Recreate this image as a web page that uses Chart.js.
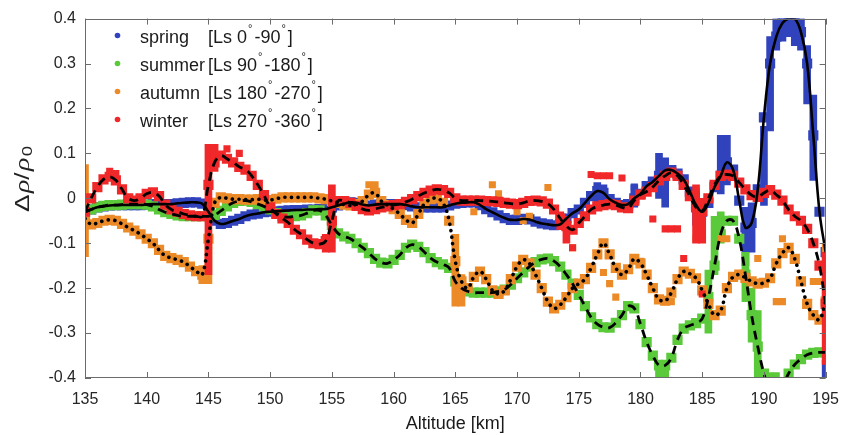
<!DOCTYPE html>
<html>
<head>
<meta charset="utf-8">
<script src="https://cdn.jsdelivr.net/npm/chart.js@4"></script>
<style>
  html,body{margin:0;padding:0;background:#fff;}
  #wrap{width:851px;height:435px;position:relative;}
</style>
</head>
<body>
<div id="wrap"><canvas id="c" width="851" height="435"></canvas></div>
<script>
// Altitude grid (km), 0.5 km steps
const altitude = [
135,135.5,136,136.5,137,137.5,138,138.5,139,139.5,
140,140.5,141,141.5,142,142.5,143,143.5,144,144.5,
145,145.5,146,146.5,147,147.5,148,148.5,149,149.5,
150,150.5,151,151.5,152,152.5,153,153.5,154,154.5,
155,155.5,156,156.5,157,157.5,158,158.5,159,159.5,
160,160.5,161,161.5,162,162.5,163,163.5,164,164.5,
165,165.5,166,166.5,167,167.5,168,168.5,169,169.5,
170,170.5,171,171.5,172,172.5,173,173.5,174,174.5,
175,175.5,176,176.5,177,177.5,178,178.5,179,179.5,
180,180.5,181,181.5,182,182.5,183,183.5,184,184.5,
185,185.5,186,186.5,187,187.5,188,188.5,189,189.5,
190,190.5,191,191.5,192,192.5,193,193.5,194,194.5,
195];

const spring = [
-0.03,-0.025,-0.02,-0.018,-0.016,-0.015,-0.015,-0.015,-0.015,-0.015,
-0.014,-0.013,-0.013,-0.013,-0.013,-0.011,-0.01,-0.009,-0.009,-0.012,
-0.03,-0.05,-0.057,-0.055,-0.05,-0.046,-0.04,-0.036,-0.034,-0.031,
-0.03,-0.029,-0.028,-0.027,-0.026,-0.026,-0.025,-0.025,-0.024,-0.024,
-0.02,-0.016,-0.012,-0.009,-0.01,-0.014,-0.016,-0.014,-0.013,-0.013,
-0.013,-0.013,-0.015,-0.018,-0.02,-0.02,-0.02,-0.02,-0.02,-0.016,
-0.012,-0.01,-0.009,-0.009,-0.015,-0.024,-0.031,-0.038,-0.044,-0.048,
-0.048,-0.046,-0.047,-0.052,-0.056,-0.058,-0.06,-0.058,-0.045,-0.033,
-0.025,-0.01,0.005,0.016,0.012,-0.002,-0.01,-0.015,-0.013,0.0,
0.01,0.027,0.037,0.05,0.062,0.063,0.055,0.042,0.015,-0.015,
-0.03,-0.01,0.025,0.05,0.08,0.064,-0.005,-0.065,-0.055,0.02,
0.18,0.3,0.36,0.39,0.4,0.4,0.37,0.3,0.14,-0.03,
-0.12];

const summer = [
-0.03,-0.025,-0.02,-0.017,-0.015,-0.015,-0.014,-0.013,-0.013,-0.013,
-0.014,-0.018,-0.025,-0.031,-0.035,-0.038,-0.04,-0.04,-0.04,-0.04,
-0.04,-0.037,-0.028,-0.018,-0.01,-0.006,-0.005,-0.008,-0.013,-0.018,
-0.025,-0.033,-0.04,-0.042,-0.04,-0.038,-0.033,-0.027,-0.027,-0.038,
-0.06,-0.078,-0.085,-0.09,-0.1,-0.11,-0.122,-0.135,-0.143,-0.145,
-0.137,-0.126,-0.11,-0.103,-0.108,-0.12,-0.133,-0.142,-0.147,-0.155,
-0.185,-0.2,-0.207,-0.21,-0.21,-0.21,-0.21,-0.207,-0.203,-0.192,
-0.178,-0.165,-0.152,-0.142,-0.136,-0.134,-0.14,-0.152,-0.17,-0.19,
-0.215,-0.24,-0.265,-0.28,-0.287,-0.288,-0.277,-0.26,-0.24,-0.245,
-0.28,-0.32,-0.35,-0.372,-0.372,-0.355,-0.315,-0.29,-0.283,-0.278,
-0.268,-0.22,-0.15,-0.08,-0.05,-0.05,-0.09,-0.17,-0.26,-0.33,
-0.39,-0.43,-0.44,-0.42,-0.39,-0.37,-0.358,-0.348,-0.344,-0.343,
-0.343];

const autumn = [
-0.045,-0.058,-0.055,-0.05,-0.048,-0.05,-0.057,-0.065,-0.072,-0.08,
-0.09,-0.1,-0.115,-0.128,-0.133,-0.137,-0.142,-0.152,-0.162,-0.17,
-0.09,-0.01,0.002,0.0,-0.002,-0.002,-0.003,-0.003,-0.002,-0.004,
-0.004,-0.001,0.002,0.002,0.002,0.002,0.002,0.002,0.0,-0.002,
-0.006,-0.01,-0.014,-0.016,-0.013,-0.006,0.008,0.012,-0.006,-0.015,
-0.024,-0.035,-0.048,-0.055,-0.035,-0.012,-0.002,0.0,-0.01,-0.05,
-0.14,-0.185,-0.2,-0.175,-0.163,-0.18,-0.205,-0.213,-0.205,-0.18,
-0.152,-0.137,-0.145,-0.17,-0.2,-0.23,-0.245,-0.237,-0.22,-0.2,
-0.19,-0.18,-0.155,-0.125,-0.1,-0.125,-0.155,-0.17,-0.158,-0.135,
-0.145,-0.17,-0.2,-0.225,-0.228,-0.21,-0.18,-0.163,-0.168,-0.178,
-0.205,-0.235,-0.26,-0.25,-0.2,-0.175,-0.17,-0.177,-0.185,-0.19,
-0.188,-0.178,-0.145,-0.122,-0.11,-0.135,-0.185,-0.235,-0.26,-0.27,
-0.23];

const winter = [
-0.03,0.0,0.025,0.042,0.048,0.04,0.02,0.0,-0.005,0.0,
0.01,0.013,0.005,-0.014,-0.025,-0.03,-0.035,-0.038,-0.04,-0.04,
0.03,0.08,0.095,0.088,0.08,0.07,0.064,0.05,0.03,0.007,
-0.02,-0.035,-0.045,-0.055,-0.07,-0.08,-0.092,-0.1,-0.102,-0.095,
-0.05,-0.006,-0.006,-0.01,-0.017,-0.024,-0.027,-0.024,-0.02,-0.018,
-0.015,-0.013,-0.008,-0.002,0.005,0.012,0.017,0.02,0.018,0.012,
0.0,-0.005,-0.005,-0.005,-0.005,-0.006,-0.007,-0.008,-0.01,-0.012,
-0.013,-0.01,-0.006,-0.005,-0.007,-0.012,-0.025,-0.045,-0.062,-0.07,
-0.055,-0.04,-0.025,-0.018,-0.015,-0.013,-0.015,-0.02,-0.022,-0.005,
0.008,0.015,0.025,0.04,0.05,0.057,0.05,0.03,0.005,-0.02,
-0.028,0.0,0.03,0.05,0.053,0.05,0.035,0.02,0.007,0.003,
0.012,0.018,0.008,-0.005,-0.025,-0.04,-0.05,-0.068,-0.1,-0.15,
-0.235];

// Isolated scattered observations [altitude, value]
const springExtra = [[179.5,0.025],[184.5,0.015]];
const summerExtra = [[190.5,-0.395],[191,-0.395]];
const autumnExtra = [[158,0.03],[158.5,0.03],[166.5,-0.03],[168,0.03],[168.5,0.01],[172.5,0.024],[170,-0.03],[170.5,-0.05],[171,-0.04],[174.5,-0.11],[177,-0.165],[177.5,-0.19],[178,-0.22],[179.5,-0.14],[180,-0.14],[182,-0.23],[182.5,-0.23],[184.5,-0.09],[185,-0.09],[186.5,-0.09],[187,-0.09],[189.5,-0.134],[191,-0.23],[191.5,-0.23],[191.5,-0.09],[194,-0.185],[194.5,-0.185]];
const winterExtra = [[176,0.053],[176.5,0.05],[177,0.05],[177.5,0.05],[178.5,0.045],[181,-0.046],[182,-0.068],[182.5,-0.068],[183,-0.068],[183.5,-0.134],[185,-0.213],[137,0.06],[137.5,0.055],[146.5,0.11],[147.5,0.1],[174.5,-0.11]];

// Vertical spreads of many observations at one altitude [altitude, low, high]
const springRanges = [[176.5,-0.02,0.035],[177,-0.01,0.03],[179.5,-0.02,0.03],[181.5,0.0,0.1],[182,-0.02,0.09],[184.5,-0.06,0.015],[185,-0.05,0.0],[186.5,0.01,0.14],[187,0.03,0.14],[188.5,-0.15,-0.02],[189,-0.12,-0.01],[190,-0.016,0.16],[190.5,0.15,0.36],[191,0.33,0.4],[191.5,0.35,0.4],[192,0.36,0.4],[192.5,0.34,0.4],[193,0.33,0.4],[193.5,0.21,0.34],[194,0.04,0.23],[195,-0.4,-0.36]];
const summerRanges = [[185.5,-0.3,-0.16],[186,-0.17,-0.04],[186.5,-0.1,-0.03],[188.5,-0.23,-0.12],[189,-0.32,-0.2],[189.5,-0.4,-0.25],[181.5,-0.4,-0.36],[182,-0.4,-0.36]];
const autumnRanges = [[135,-0.13,0.075],[144.5,-0.19,-0.15],[145,-0.19,-0.09],[165,-0.24,-0.08],[165.5,-0.24,-0.17],[195,-0.27,-0.1]];
const winterRanges = [[145,-0.17,0.12],[145.5,0.06,0.12],[155,-0.12,0.03],[154.5,-0.12,-0.08],[184.5,-0.1,0.03],[185,-0.1,0.0],[195,-0.37,-0.12],[173.5,-0.07,-0.03],[174,-0.1,-0.04]];

const xTicks = [135,140,145,150,155,160,165,170,175,180,185,190,195];
const yTicks = [-0.4,-0.3,-0.2,-0.1,0,0.1,0.2,0.3,0.4];

const seasonNames = ['spring','summer','autumn','winter'];
const seasonLs = [['0','90'],['90','180'],['180','270'],['270','360']];
const seasonColors = ['#3043bd','#5ac93a','#ec8a28','#f0282a'];

const series = [spring, summer, autumn, winter];
const extras = [springExtra, summerExtra, autumnExtra, winterExtra];
const ranges = [springRanges, summerRanges, autumnRanges, winterRanges];

function pts(vals, extra){
  const out = altitude.map((a,i)=>({x:a,y:vals[i]}));
  extra.forEach(p=>out.push({x:p[0],y:p[1]}));
  return out;
}
function line(vals){ return altitude.map((a,i)=>({x:a,y:vals[i]})); }

const datasets = [];
// fitted lines (drawn on top)
datasets.push({type:'line',data:line(spring),borderColor:'#000',borderWidth:2.6,pointRadius:0,tension:0.4,order:0,fill:false});
datasets.push({type:'line',data:line(summer),borderColor:'#000',borderWidth:2.8,borderDash:[9,6],pointRadius:0,tension:0.4,order:0,fill:false});
datasets.push({type:'line',data:line(autumn),borderColor:'#000',borderWidth:3.6,borderDash:[0.1,6.5],borderCapStyle:'round',pointRadius:0,tension:0.4,order:0,fill:false});
datasets.push({type:'line',data:line(winter),borderColor:'#000',borderWidth:2.8,borderDash:[9,6],pointRadius:0,tension:0.4,order:0,fill:false});
// observation markers + vertical spreads
for(let k=0;k<4;k++){
  const n = altitude.length;
  datasets.push({type:'scatter',data:pts(series[k],extras[k]),backgroundColor:seasonColors[k],borderWidth:0,
    pointStyle:'rect',pointRadius:c=>c.dataIndex<n?7.2:5,pointHoverRadius:7,order:10-k});
  datasets.push({type:'bar',data:ranges[k].map(r=>({x:r[0],y:[r[1],r[2]]})),backgroundColor:seasonColors[k],
    borderWidth:0,barThickness:7,grouped:false,order:10-k});
}

const FONT = '"Liberation Sans", Arial, sans-serif';
const PLOT_L=85, PLOT_R=833, PLOT_T=14, PLOT_B=378;

const decor = {
  id:'decor',
  afterDraw(chart){
    const ctx=chart.ctx, xs=chart.scales.x, ys=chart.scales.y, a=chart.chartArea;
    ctx.save();
    ctx.strokeStyle='#6b6b6b'; ctx.lineWidth=1;
    ctx.strokeRect(Math.round(a.left)+0.5, Math.round(a.top)+0.5, Math.round(a.right-a.left)-1, Math.round(a.bottom-a.top)-1);
    ctx.beginPath();
    xTicks.forEach(t=>{const px=Math.round(xs.getPixelForValue(t))+0.5;
      ctx.moveTo(px,a.bottom); ctx.lineTo(px,a.bottom-6);
      ctx.moveTo(px,a.top); ctx.lineTo(px,a.top+6);});
    yTicks.forEach(t=>{const py=Math.round(ys.getPixelForValue(t))+0.5;
      ctx.moveTo(a.left,py); ctx.lineTo(a.left+6,py);
      ctx.moveTo(a.right,py); ctx.lineTo(a.right-6,py);});
    ctx.stroke();

    // legend
    const rowY=[38,66,94,122];
    const big='18px '+FONT, small='11px '+FONT;
    for(let k=0;k<4;k++){
      const y=rowY[k];
      ctx.fillStyle=seasonColors[k];
      ctx.beginPath(); ctx.arc(117.5,y-2.5,2.8,0,Math.PI*2); ctx.fill();
      ctx.fillStyle='#1a1a1a';
      ctx.textBaseline='middle'; ctx.textAlign='left';
      ctx.font=big;
      ctx.fillText(seasonNames[k],140,y);
      let x=208;
      const parts=[['[Ls ',0],[seasonLs[k][0],0],['°',1],['-'+seasonLs[k][1],0],['°',1],[']',0]];
      parts.forEach(p=>{
        ctx.font=p[1]?small:big;
        ctx.fillText(p[0],x+(p[1]?1:0),p[1]?y-9:y);
        x+=ctx.measureText(p[0]).width+(p[1]?3:0);
      });
    }

    // y axis title: Δρ/ρ0
    ctx.translate(23,179); ctx.rotate(-Math.PI/2);
    ctx.fillStyle='#222'; ctx.textBaseline='middle'; ctx.textAlign='left';
    const f1='20px '+FONT;
    const f2='italic 21px "Liberation Serif", "Times New Roman", serif';
    const f3='14px '+FONT;
    const segs=[['Δ',f1,0,1],['ρ',f2,0,0],['/',f1,0,1],['ρ',f2,0,1],['0',f3,5,0]];
    let w=0; segs.forEach(s=>{ctx.font=s[1]; w+=ctx.measureText(s[0]).width+s[3];});
    const sx=Math.min(1.35,66/w); ctx.scale(sx,1);
    let x=-w/2;
    segs.forEach(s=>{ctx.font=s[1]; ctx.fillText(s[0],x,s[2]); x+=ctx.measureText(s[0]).width+s[3];});
    ctx.restore();
  }
};

new Chart(document.getElementById('c'),{
  type:'scatter',
  data:{datasets},
  options:{
    responsive:false, animation:false,
    layout:{padding:{left:0,right:851-PLOT_R,top:PLOT_T,bottom:0}},
    plugins:{legend:{display:false},tooltip:{enabled:false}},
    scales:{
      x:{type:'linear',min:135,max:195,offset:false,
        afterBuildTicks(s){s.ticks=xTicks.map(v=>({value:v}));},
        afterFit(s){s.height=435-PLOT_B;},
        grid:{display:false,drawTicks:false,offset:false},border:{display:false},
        ticks:{padding:12,color:'#262626',font:{family:FONT,size:16},autoSkip:false,maxRotation:0,
          callback:v=>String(v)},
        title:{display:true,text:'Altitude [km]',color:'#1a1a1a',padding:{top:0,bottom:0},font:{family:FONT,size:18}}
      },
      y:{type:'linear',min:-0.4,max:0.4,
        afterBuildTicks(s){s.ticks=yTicks.map(v=>({value:v}));},
        afterFit(s){s.width=PLOT_L;},
        grid:{display:false,drawTicks:false},border:{display:false},
        ticks:{padding:9,color:'#262626',font:{family:FONT,size:16},autoSkip:false,
          callback:v=>Math.abs(v)<1e-9?'0':v.toFixed(1)}
      }
    }
  },
  plugins:[decor]
});
</script>
</body>
</html>
